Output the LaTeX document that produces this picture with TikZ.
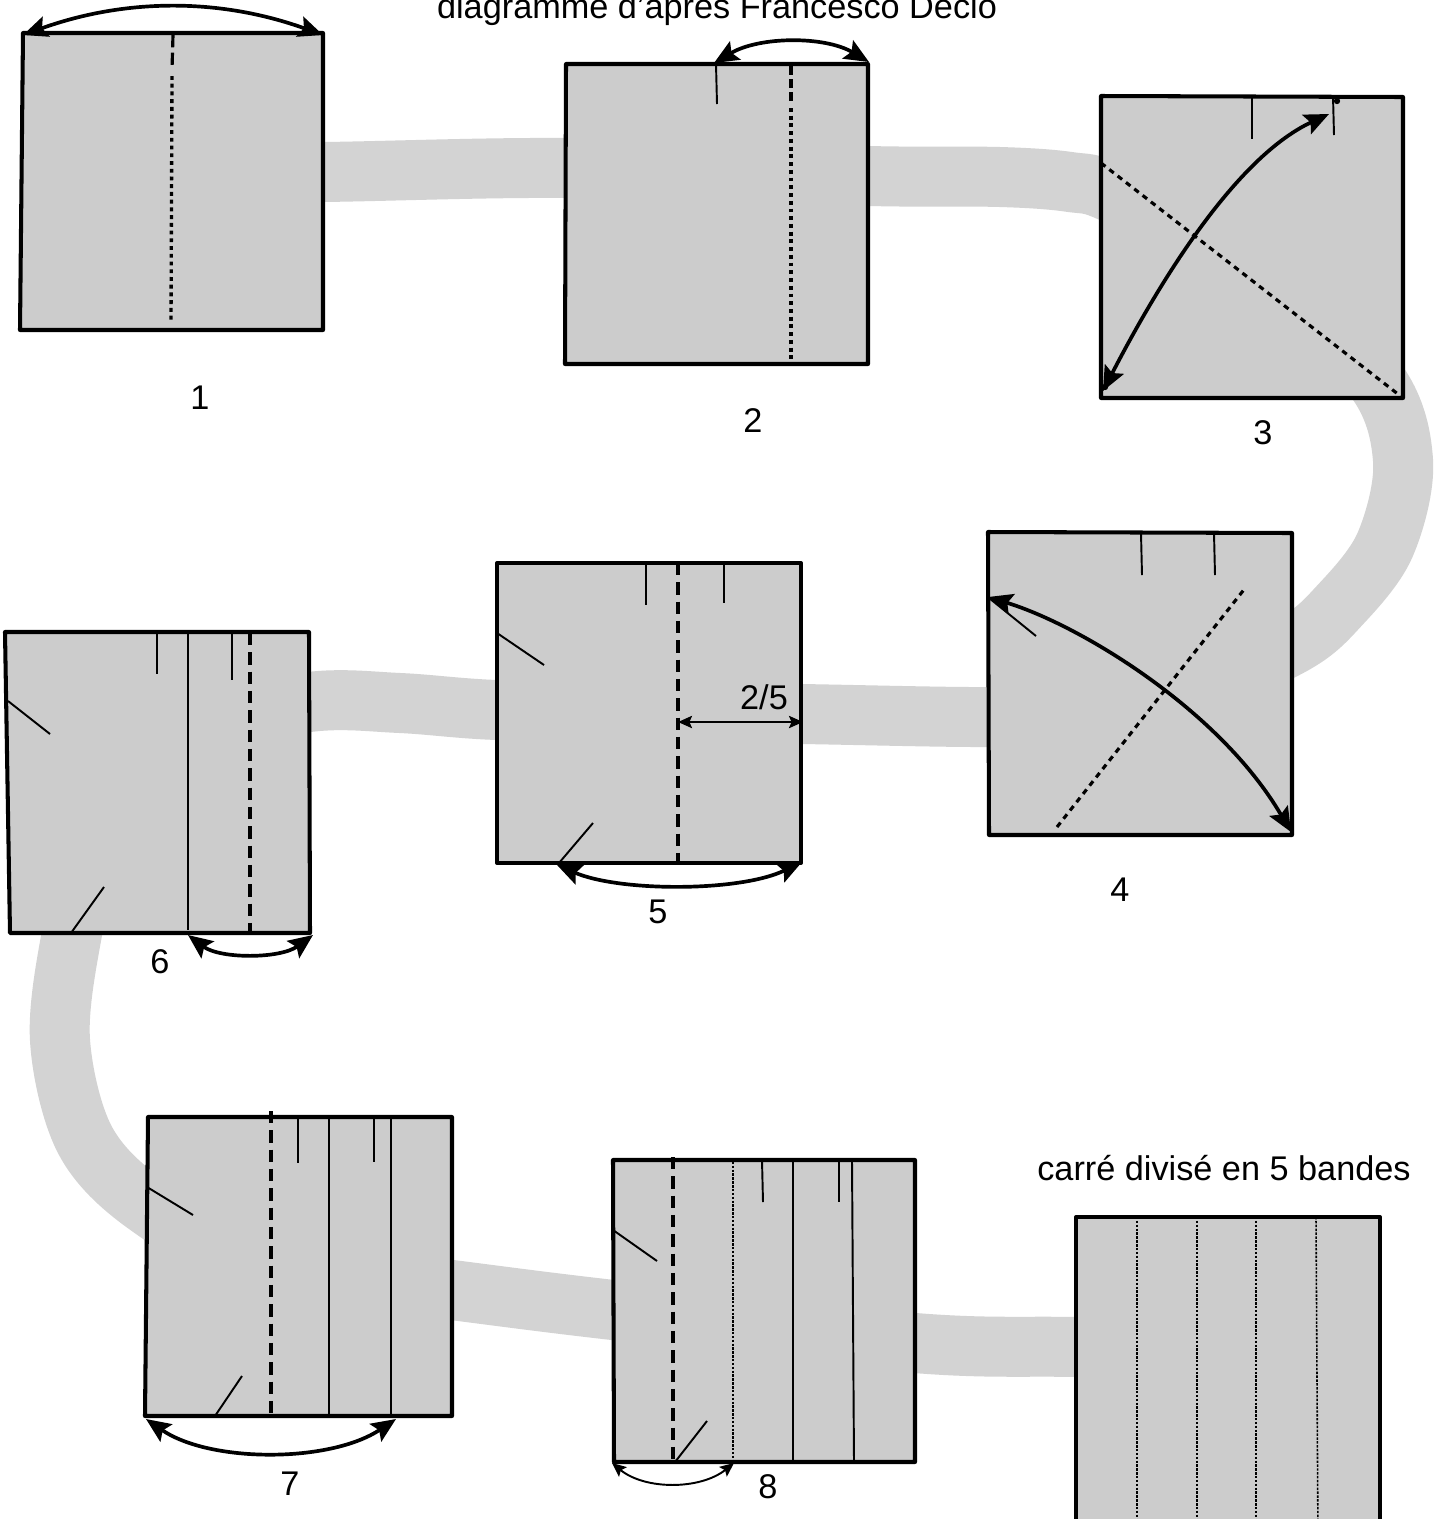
\documentclass[tikz,border=0pt]{standalone}
\usepackage{fontspec}
\setmainfont{Liberation Sans}
\usetikzlibrary{arrows.meta}
\definecolor{paper}{RGB}{204,204,204}
\definecolor{ribbon}{RGB}{211,211,211}

\begin{document}
\begin{tikzpicture}[x=0.02cm,y=-0.02cm,
  sheet/.style={draw=black, fill=paper, line width=2.3pt, line join=round},
  crease/.style={line width=1.1pt},
  valley/.style={line width=1.8pt, dash pattern=on 7pt off 4pt},
  dotfold/.style={line width=1.9pt, dash pattern=on 2.2pt off 2.2pt},
  diagfold/.style={line width=1.8pt, dash pattern=on 3.2pt off 2.8pt},
  finedot/.style={line width=0.9pt, dash pattern=on 1.4pt off 0.8pt},
  bighead/.tip={Stealth[length=14pt,width=12pt,inset=2.5pt]},
  smallhead/.tip={Stealth[length=8pt,width=7pt,inset=1.5pt]},
  swing/.style={line width=2.1pt, bighead-bighead},
  smallswing/.style={line width=1.1pt, smallhead-smallhead},
  steplabel/.style={font=\fontsize{19.5}{23}\selectfont, inner sep=0pt},
]
\clip (0,0) rectangle (1440,1519);
\fill[white] (0,0) rectangle (1440,1519);

% the grey ribbon that links the steps
\draw[ribbon, line width=1.2cm, line cap=butt] plot[smooth, tension=0.55] coordinates {
  (150,173) (323,172) (566,168) (868,176) (1000,177) (1070,182) (1115,194)
  (1250,265) (1372,375) (1403,460) (1385,545) (1340,605) (1292,645)
  (1180,693) (1080,712) (988,717) (801,714) (650,712) (497,710) (400,703) (309,702)
  (180,730) (100,820) (72,933) (60,1040) (85,1140) (147,1205) (260,1265)
  (452,1290) (613,1310) (915,1343) (1076,1347) (1250,1350)};

% title
\node[steplabel, anchor=base] (title) at (717,18) {diagramme d'après Francesco Decio};

% ---------- step 1
\draw[sheet] (23,33) -- (323,33) -- (323,330) -- (20,330) -- cycle;
\draw[line width=1.8pt, dash pattern=on 7pt off 3pt] (173,35) -- (172,70);
\draw[dotfold] (172,76) -- (171,323);
\coordinate (a1r) at (323,35);
\coordinate (a1l) at (23,35);
\draw[swing] (a1r) .. controls (220,-2) and (126,-2) .. (a1l);
\node[steplabel] (n1) at (200,398) {1};

% ---------- step 2
\draw[sheet] (566,64) -- (868,64) -- (868,364) -- (565,364) -- cycle;
\draw[crease] (716,64) -- (717,104);
\draw[line width=1.8pt, dash pattern=on 5pt off 2.5pt] (791,66) -- (791,104);
\draw[dotfold] (791,108) -- (791,362);
\coordinate (a2l) at (714,63);
\coordinate (a2r) at (869,62);
\draw[swing] (a2l) .. controls (760,36) and (825,36) .. (a2r);
\node[steplabel] (n2) at (753,421) {2};

% ---------- step 3
\draw[sheet] (1101,96) -- (1403,97) -- (1403,398) -- (1101,398) -- cycle;
\draw[crease] (1252,96) -- (1252,139);
\draw[crease] (1333,96) -- (1334,135);
\fill (1337,101) circle (1.8pt);
\draw[diagfold] (1101,163) -- (1403,398);
\fill (1105,387) circle (1.8pt);
\coordinate (a3b) at (1103,391);
\coordinate (a3t) at (1329,114);
\draw[swing] (a3b) .. controls (1150,300) and (1230,160) .. (a3t);
\node[steplabel] (n3) at (1263,433) {3};

% ---------- step 4
\draw[sheet] (988,532) -- (1292,533) -- (1292,835) -- (989,835) -- cycle;
\draw[crease] (1141,533) -- (1142,575);
\draw[crease] (1214,533) -- (1215,575);
\draw[diagfold] (1057,827) -- (1246,587);
\draw[crease] (989,598) -- (1036,636);
\coordinate (a4l) at (988,597);
\coordinate (a4r) at (1291,832);
\draw[swing] (a4l) .. controls (1080,625) and (1220,710) .. (a4r);
\node[steplabel] (n4) at (1120,890) {4};

% ---------- step 5
\draw[sheet] (497,563) -- (801,563) -- (801,863) -- (497,863) -- cycle;
\draw[crease] (646,563) -- (646,605);
\draw[crease] (724,563) -- (724,603);
\draw[valley] (678,563) -- (678,863);
\draw[crease] (497,633) -- (544,665);
\draw[crease] (559,863) -- (593,823);
\coordinate (d5l) at (678,722);
\coordinate (d5r) at (803,722);
\draw[smallswing] (d5l) -- (d5r);
\node[steplabel] (frac) at (764,697) {2/5};
\coordinate (a5l) at (557,865);
\coordinate (a5r) at (802,862);
\draw[swing] (a5l) .. controls (620,892) and (740,892) .. (a5r);
\node[steplabel] (n5) at (658,912) {5};

% ---------- step 6
\draw[sheet] (5,632) -- (309,632) -- (310,933) -- (10,933) -- cycle;
\draw[crease] (157,633) -- (157,674);
\draw[crease] (232,633) -- (232,680);
\draw[crease] (188,633) -- (188,930);
\draw[valley] (250,633) -- (250,933);
\draw[crease] (8,701) -- (50,734);
\draw[crease] (71,933) -- (104,887);
\coordinate (a6l) at (188,935);
\coordinate (a6r) at (313,935);
\draw[swing] (a6l) .. controls (220,959) and (280,959) .. (a6r);
\node[steplabel] (n6) at (160,962) {6};

% ---------- step 7
\draw[sheet] (148,1117) -- (452,1117) -- (452,1416) -- (145,1416) -- cycle;
\draw[valley] (271,1111) -- (271,1416);
\draw[crease] (298,1118) -- (298,1163);
\draw[crease] (374,1118) -- (374,1162);
\draw[crease] (329,1118) -- (329,1416);
\draw[crease] (391,1118) -- (391,1416);
\draw[crease] (147,1187) -- (193,1215);
\draw[crease] (215,1416) -- (242,1376);
\coordinate (a7l) at (146,1419);
\coordinate (a7r) at (396,1419);
\draw[swing] (a7l) .. controls (210,1463) and (330,1463) .. (a7r);
\node[steplabel] (n7) at (290,1484) {7};

% ---------- step 8
\draw[sheet] (613,1160) -- (915,1160) -- (915,1462) -- (614,1462) -- cycle;
\draw[valley] (673,1157) -- (673,1462);
\draw[finedot] (733,1158) -- (733,1462);
\draw[crease] (762,1160) -- (763,1202);
\draw[crease] (839,1160) -- (839,1202);
\draw[crease] (793,1160) -- (793,1462);
\draw[crease] (852,1160) -- (854,1462);
\draw[crease] (613,1230) -- (657,1261);
\draw[crease] (675,1462) -- (707,1421);
\coordinate (a8l) at (612,1463);
\coordinate (a8r) at (734,1463);
\draw[smallswing] (a8l) .. controls (645,1490) and (700,1490) .. (a8r);
\node[steplabel] (n8) at (768,1487) {8};

% ---------- result
\node[steplabel, anchor=base] (result) at (1224,1180) {carré divisé en 5 bandes};
\draw[sheet] (1076,1217) -- (1380,1217) -- (1380,1540) -- (1076,1540) -- cycle;
\draw[finedot] (1137,1217) -- (1137,1540);
\draw[finedot] (1197,1217) -- (1197,1540);
\draw[finedot] (1256,1217) -- (1256,1540);
\draw[finedot] (1316,1217) -- (1318,1540);
\end{tikzpicture}
\end{document}
